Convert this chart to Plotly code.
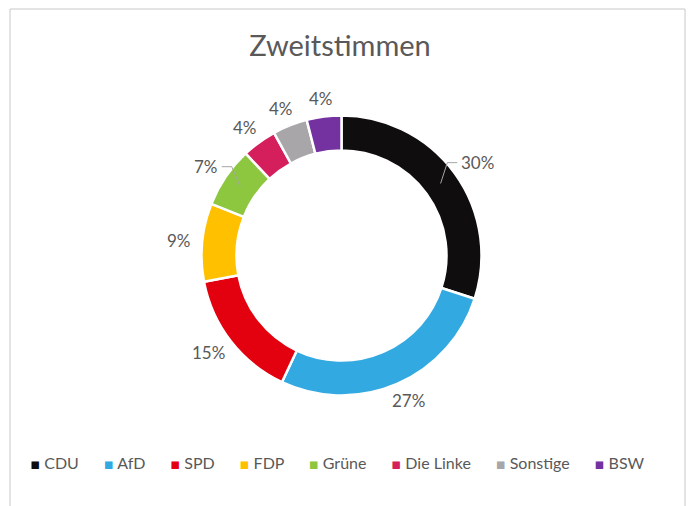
import math
import plotly.graph_objects as go

parties = ["CDU", "AfD", "SPD", "FDP", "Grüne", "Die Linke", "Sonstige", "BSW"]
shares = [30, 27, 15, 9, 7, 4, 4, 4]
colors = ["#0f0d0d", "#33a9e1", "#e3000f", "#ffc000", "#8dc63f", "#d51f5c", "#a8a6a8", "#7431a0"]
leader_parties = {"CDU", "Grüne"}  # labels drawn with a leader line

W, H = 695, 506
cx, cy, R = 341.5, 255.5, 140
HOLE = 0.75
GRAY = "#595959"
FONT = "Lato"

fig = go.Figure(go.Pie(
    labels=parties,
    values=shares,
    sort=False,
    direction="clockwise",
    rotation=0,
    hole=HOLE,
    marker=dict(colors=colors, line=dict(color="white", width=2.5)),
    textinfo="none",
    hoverinfo="label+percent",
    domain=dict(x=[(cx - R) / W, (cx + R) / W], y=[(H - cy - R) / H, (H - cy + R) / H]),
    showlegend=False,
))

annotations = []
shapes = []
total = sum(shares)
cum = 0.0
for name, v in zip(parties, shares):
    mid = (cum + v / 2) / total * 2 * math.pi
    cum += v
    dx, dy = math.sin(mid), -math.cos(mid)  # screen direction (y down)
    text = f"{v}%"
    half_w = 5.2 * len(text) + 3
    half_h = 8
    ax_, ay_ = cx + dx * (R + 10), cy + dy * (R + 10)
    tx, ty = ax_ + dx * half_w, ay_ + dy * half_h
    annotations.append(dict(
        text=text, x=tx / W, y=1 - ty / H, xref="paper", yref="paper",
        xanchor="center", yanchor="middle", showarrow=False,
        font=dict(family=FONT, size=17, color=GRAY)))
    if name in leader_parties:
        rm = R * (1 + HOLE) / 2
        sx, sy = cx + dx * rm, cy + dy * rm
        side = 1 if dx > 0 else -1
        ex = tx - side * (half_w + 2)
        bx = ex - side * 10
        shapes.append(dict(type="path", xref="paper", yref="paper",
                           path=f"M {sx / W},{1 - sy / H} L {bx / W},{1 - ty / H} L {ex / W},{1 - ty / H}",
                           line=dict(color="#a6a6a6", width=1)))

# legend built as a single line of text, centred under the chart
items = [f"<span style='color:{c};font-family:DejaVu Sans;font-size:15px'>▪</span> {p}"
         for p, c in zip(parties, colors)]
legend_text = ("\u00a0" * 6).join(items)
annotations.append(dict(
    text=legend_text, x=337 / W, y=1 - 463 / H, xref="paper", yref="paper",
    xanchor="center", yanchor="middle", showarrow=False,
    font=dict(family=FONT, size=16, color=GRAY)))

shapes.append(dict(type="rect", xref="paper", yref="paper",
                   x0=10 / W, x1=685 / W, y0=-0.05, y1=1 - 9 / H,
                   line=dict(color="#c8c8c8", width=1), fillcolor="rgba(0,0,0,0)", layer="below"))

fig.update_layout(
    width=W, height=H,
    margin=dict(l=0, r=0, t=0, b=0),
    paper_bgcolor="white",
    title=dict(text="Zweitstimmen", x=340 / W, xanchor="center", y=1 - 46 / H, yanchor="middle",
               font=dict(family=FONT, size=29, color=GRAY)),
    annotations=annotations,
    shapes=shapes,
)

fig.write_html("out.html")
